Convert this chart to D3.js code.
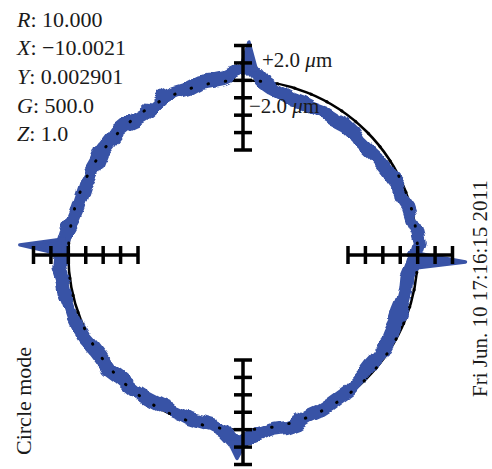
<!DOCTYPE html>
<html>
<head>
<meta charset="utf-8">
<script src="https://cdn.jsdelivr.net/npm/d3@7"></script>
<style>
  body { margin: 0; background: #fff; }
  text { font-family: "Liberation Serif", "Times New Roman", serif; fill: #1a1a1a; }
</style>
</head>
<body>
<div id="wrapper"></div>
<script>
// 1. Data
// measured radial deviation (µm), one reading every 4 degrees, CCW from +X
const angleStep = 4
const traceDev = [
  -0.2, 0.3, 0.1, -0.3, -0.4, -0.8, -0.5, -0.8, -1.0, -1.1,
  -1.3, -1.4, -1.1, -1.0, -1.2, -1.2, -1.4, -1.3, -1.3, -1.0,
  -0.6, 0.1, 1.5, 1.0, 0.4, 0.3, 0.4, 0.1, 0.2, 0.2,
  -0.2, -0.4, -0.3, 0.1, 0.2, 0.1, 0.1, -0.2, -0.2, -0.2,
  -0.3, -0.3, -0.1, 0.4, 0.7, 1.0, 1.2, 0.9, 0.9, 0.7,
  0.7, 0.6, 0.5, 0.2, 0.1, 0.2, -0.1, -0.2, -0.2, -0.3,
  -0.4, -0.5, -0.5, -0.3, -0.3, -0.2, 0.3, 1.7, 1.0, 0.5,
  0.2, 0.3, 0.2, -0.1, -0.1, -0.2, -0.3, -0.3, -0.5, -0.6,
  -0.7, -0.6, -0.7, -0.9, -0.9, -1.0, -0.9, -0.9, -1.0, -0.6
]
// reversal spikes at the quadrant changes
const spikeAngles = [88.4, 177.4, 268.3, 358.2]
const spikeTips = [4.4, 5.6, 3.3, 5.5]
const spikeBases = [1.3, 0.6, 1.5, -0.2]

const axisDirections = [0, 90, 180, 270]
const tickValues = [-8, -6, -4, -2, 0, 2, 4]
const infoLabels = [
  ["R", "10.000"],
  ["X", "\u221210.0021"],
  ["Y", "0.002901"],
  ["G", "500.0"],
  ["Z", "1.0"],
]
const scaleLabels = [["+2.0 ", 2], ["\u22122.0 ", -2]]
const dateLabel = "Fri Jun. 10 17:16:15 2011"
const modeLabel = "Circle mode"

const traceData = traceDev.map((dev, i) => ({angle: i * angleStep, dev}))

// 2. Dimensions
const dimensions = {width: 492, height: 469, cx: 243, cy: 255}

// 3. Canvas
const wrapper = d3.select("#wrapper")
  .append("svg")
    .attr("width", dimensions.width)
    .attr("height", dimensions.height)

// ragged edge for the noisy trace band
const filter = wrapper.append("defs").append("filter")
    .attr("id", "rough")
    .attr("x", "-10%").attr("y", "-10%")
    .attr("width", "120%").attr("height", "120%")
filter.append("feTurbulence")
    .attr("type", "fractalNoise")
    .attr("baseFrequency", 0.07)
    .attr("numOctaves", 1)
    .attr("seed", 4)
    .attr("result", "noise")
filter.append("feDisplacementMap")
    .attr("in", "SourceGraphic")
    .attr("in2", "noise")
    .attr("scale", 12)
    .attr("xChannelSelector", "R")
    .attr("yChannelSelector", "G")

const bounds = wrapper.append("g")
    .attr("transform", `translate(${dimensions.cx},${dimensions.cy})`)

// 4. Scales
const rScale = d3.scaleLinear()
  .domain([-8, 4])
  .range([105, 209.5])
const toRad = a => (90 - a) * Math.PI / 180

const radial = d3.lineRadial()
  .angle(d => toRad(d.angle))
  .radius(d => rScale(d.dev))

const px = (a, dev) => rScale(dev) * Math.cos(a * Math.PI / 180)
const py = (a, dev) => -rScale(dev) * Math.sin(a * Math.PI / 180)

// 5. Draw data
// reference circle
bounds.append("circle")
    .attr("r", rScale(0))
    .attr("fill", "none")
    .attr("stroke", "#000")
    .attr("stroke-width", 2.5)

const blue = "#3953a6"
bounds.append("g")
    .attr("filter", "url(#rough)")
  .append("path")
    .datum(traceData)
    .attr("d", radial.curve(d3.curveLinearClosed))
    .attr("fill", "none")
    .attr("stroke", blue)
    .attr("stroke-width", 14)
    .attr("stroke-linejoin", "round")

bounds.selectAll(".spike")
  .data(spikeAngles)
  .join("path")
    .attr("class", "spike")
    .attr("d", (a, i) => d3.line().curve(d3.curveLinearClosed)([
      [px(a - 2.5, spikeBases[i]), py(a - 2.5, spikeBases[i])],
      [px(a, spikeTips[i]), py(a, spikeTips[i])],
      [px(a + 2.5, spikeBases[i]), py(a + 2.5, spikeBases[i])],
    ]))
    .attr("fill", blue)
    .attr("stroke", blue)
    .attr("stroke-width", 3.5)
    .attr("stroke-linejoin", "round")

// dotted reference points showing through
bounds.append("circle")
    .attr("r", rScale(0))
    .attr("fill", "none")
    .attr("stroke", "#000")
    .attr("stroke-width", 3)
    .attr("stroke-linecap", "round")
    .attr("stroke-dasharray", "0.5,17")

// 6. Peripherals
const axes = bounds.selectAll(".axis")
  .data(axisDirections)
  .join("g")
    .attr("class", "axis")
    .attr("transform", d => `rotate(${-d})`)

axes.append("line")
    .attr("x1", rScale(-8))
    .attr("x2", rScale(4))
    .attr("stroke", "#000")
    .attr("stroke-width", 3.5)

axes.selectAll("line.tick")
  .data(tickValues)
  .join("line")
    .attr("class", "tick")
    .attr("x1", d => rScale(d))
    .attr("x2", d => rScale(d))
    .attr("y1", -9)
    .attr("y2", 9)
    .attr("stroke", "#000")
    .attr("stroke-width", 3.5)

bounds.selectAll(".scale-label")
  .data(scaleLabels)
  .join("text")
    .attr("class", "scale-label")
    .attr("x", (d, i) => i === 0 ? 19 : 6)
    .attr("y", (d, i) => -rScale(d[1]) + (i === 0 ? 4 : 15))
    .style("font-size", "21px")
    .call(t => {
      t.append("tspan").text(d => d[0])
      t.append("tspan").style("font-style", "italic").text("\u03bc")
      t.append("tspan").text("m")
    })

const info = wrapper.selectAll(".info")
  .data(infoLabels)
  .join("text")
    .attr("class", "info")
    .attr("x", 17)
    .attr("y", (d, i) => 26.5 + i * 28.7)
    .style("font-size", "22px")
info.append("tspan").style("font-style", "italic").text(d => d[0])
info.append("tspan").text(d => ": " + d[1])

wrapper.append("text")
    .attr("transform", "translate(487,397) rotate(-90)")
    .style("font-size", "21px")
    .text(dateLabel)

wrapper.append("text")
    .attr("transform", "translate(31,455) rotate(-90)")
    .style("font-size", "22px")
    .text(modeLabel)
</script>
</body>
</html>
